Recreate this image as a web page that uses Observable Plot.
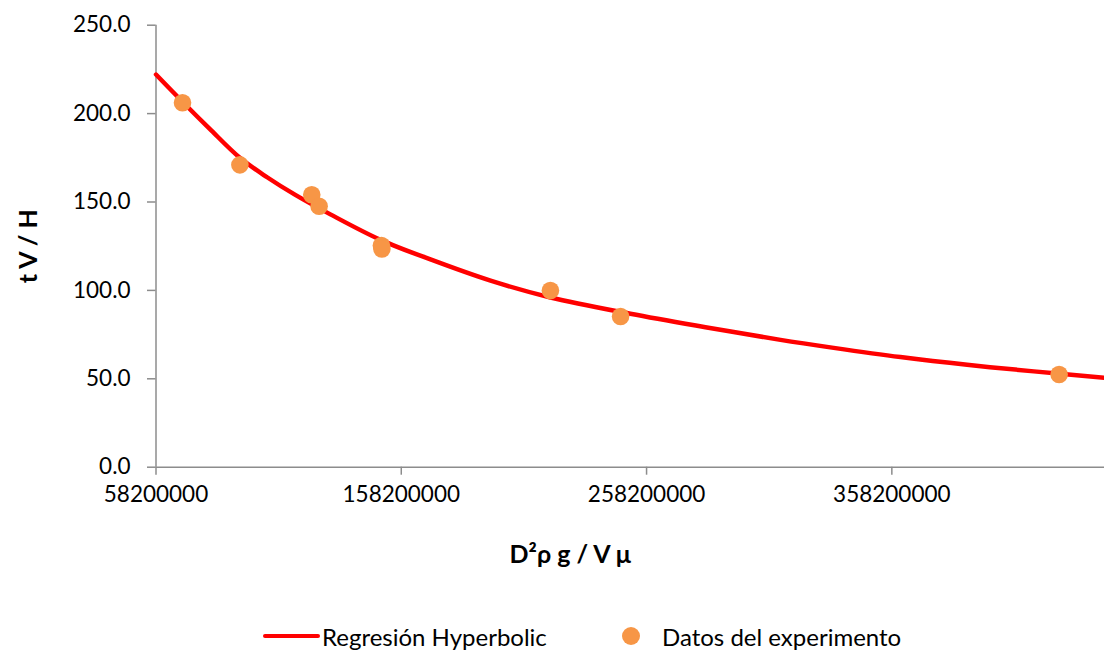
<!DOCTYPE html>
<html>
<head>
<meta charset="utf-8">
<script src="https://cdn.jsdelivr.net/npm/d3@7"></script>
<script src="https://cdn.jsdelivr.net/npm/@observablehq/plot@0.6"></script>
<style>
  body { margin: 0; background: #fff; font-family: Lato, "Open Sans", sans-serif; }
  #chart { position: relative; width: 1104px; height: 650px; }
  .legend { position: absolute; top: 622px; left: 0; width: 1104px; height: 28px; font-size: 24px; color: #000; }
  .legend .item { position: absolute; top: 0; display: flex; align-items: center; height: 28px; }
  .legend .line { width: 57px; height: 4.5px; background: #ff0000; border-radius: 2px; margin-right: 2px; }
  .legend .dot { width: 18px; height: 18px; border-radius: 50%; background: #f79646; margin-right: 22px; }
</style>
</head>
<body>
<div id="chart"></div>
<script>
// Experimental measurements: D²ρg/Vμ against tV/H
const expX = [69.0e6, 92.4e6, 121.7e6, 124.7e6, 150.1e6, 150.3e6, 219.0e6, 247.6e6, 426.4e6];
const expY = [206.1, 171.0, 154.1, 147.6, 125.4, 123.4, 99.9, 85.2, 52.4];

// Fitted hyperbolic regression curve, sampled along the x range
const fitX = [58.2e6, 69.5e6, 80.0e6, 92.4e6, 103.5e6, 115.0e6, 129.3e6, 149.7e6, 170.1e6,
              194.6e6, 219.0e6, 251.6e6, 282.2e6, 312.8e6, 334.5e6, 361.7e6, 388.9e6,
              416.1e6, 444.9e6];
const fitY = [222.1, 206.0, 191.5, 175.0, 164.0, 154.0, 143.0, 128.6, 117.5,
              105.5, 96.0, 86.8, 79.2, 72.0, 67.5, 62.3, 57.9,
              54.2, 50.6];

const xTicks = [58200000, 158200000, 258200000, 358200000];
const yTicks = [0, 50, 100, 150, 200, 250];

const xTitle = "D²ρ g / V μ";
const yTitle = "t V / H";
const seriesNames = ["Regresión Hyperbolic", "Datos del experimento"];

const experiment = expX.map((x, i) => ({x, y: expY[i]}));
const fit = fitX.map((x, i) => ({x, y: fitY[i]}));

const axisColor = "#8c8c8c";

const chart = Plot.plot({
  width: 1104,
  height: 600,
  marginLeft: 155.5,
  marginRight: 0,
  marginTop: 24.7,
  marginBottom: 133.3,
  style: {fontFamily: "Lato, 'Open Sans', sans-serif", fontSize: "22.5px", color: "#000", background: "#fff"},
  x: {domain: [58.2e6, 444.9e6]},
  y: {domain: [0, 250]},
  marks: [
    Plot.axisY(yTicks, {tickFormat: d3.format(".1f"), tickSize: 8.5, tickPadding: 17, stroke: axisColor, strokeWidth: 1.5, fill: "#000", label: null}),
    Plot.axisX(xTicks, {tickFormat: d3.format("d"), tickSize: 8, tickPadding: 11, stroke: axisColor, strokeWidth: 1.5, fill: "#000", label: null}),
    Plot.ruleX([58.2e6], {stroke: axisColor, strokeWidth: 1.5}),
    Plot.ruleY([0], {stroke: axisColor, strokeWidth: 1.5}),
    Plot.line(fit, {x: "x", y: "y", stroke: "#ff0000", strokeWidth: 4.5, curve: "catmull-rom"}),
    Plot.dot(experiment, {x: "x", y: "y", r: 8.8, fill: "#f79646", stroke: "none"}),
    Plot.text([xTitle], {frameAnchor: "bottom", dx: -60, dy: 96, fontWeight: "bold", fontSize: 25}),
    Plot.text([yTitle], {frameAnchor: "left", textAnchor: "middle", dx: -127, rotate: -90, fontWeight: "bold", fontSize: 25})
  ]
});

const root = document.getElementById("chart");
root.appendChild(chart);

const legend = document.createElement("div");
legend.className = "legend";
legend.innerHTML = `
  <div class="item" style="left:263px"><span class="line"></span><span>${seriesNames[0]}</span></div>
  <div class="item" style="left:622px"><span class="dot"></span><span>${seriesNames[1]}</span></div>`;
root.appendChild(legend);
</script>
</body>
</html>
